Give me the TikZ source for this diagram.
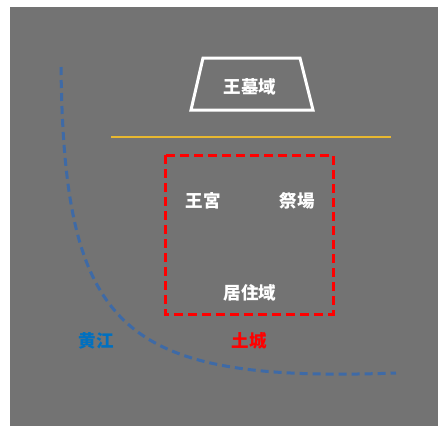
\documentclass[tikz,border=0pt]{standalone}
\usepackage{fontspec}
\newfontfamily\cjk{Noto Sans CJK JP}
\definecolor{bggray}{RGB}{115,115,115}
\definecolor{riverblue}{RGB}{62,106,166}
\definecolor{labelblue}{RGB}{0,112,192}
\definecolor{linegold}{RGB}{232,184,48}
\tikzset{
  lbl/.style={font=\cjk\bfseries\fontsize{17.5}{20}\selectfont, inner sep=0pt},
}
\begin{document}
\begin{tikzpicture}[x=1pt,y=-1pt]
\useasboundingbox (0,0) rectangle (438,426);
\fill[bggray] (10,7) rectangle (438,426);
% trapezoid
\draw[white, line width=3pt, line join=miter] (203,58) -- (300,58) -- (313,110) -- (191,110) -- cycle;
\node[lbl, text=white] (oubo) at (250,87) {王墓域};
% gold line
\coordinate (gl) at (111,137);
\coordinate (gr) at (391,137);
\draw[linegold, line width=1.6pt] (gl) -- (gr);
% red dashed rectangle
\draw[red, line width=3pt, dash pattern=on 9pt off 5pt] (165,155) rectangle (333,314);
\node[lbl, text=white] (oukyu) at (203,201) {王宮};
\node[lbl, text=white] (saijo) at (297,201) {祭場};
\node[lbl, text=white] (kyoju) at (250,293) {居住域};
% labels
\node[lbl, text=labelblue] (koukou) at (96,341) {黄江};
\node[lbl, text=red] (dojo) at (249,341) {土城};
% river
\coordinate (rs) at (61,67);
\coordinate (re) at (396,373);
\draw[riverblue, line width=3pt, dash pattern=on 8pt off 5pt] (rs) .. controls (64,330) and (120,383) .. (re);
\end{tikzpicture}
\end{document}
